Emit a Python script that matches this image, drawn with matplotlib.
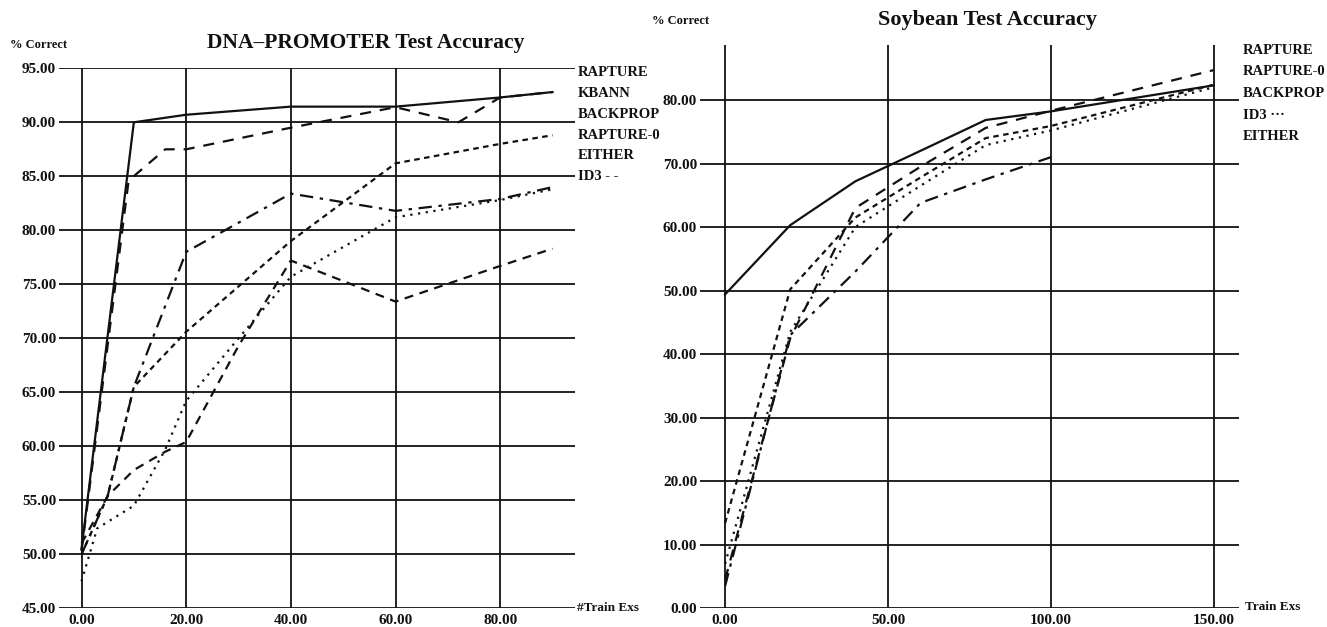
import matplotlib
matplotlib.use("Agg")
import matplotlib.pyplot as plt

plt.rcParams['font.family'] = ['Liberation Serif', 'DejaVu Serif']
plt.rcParams['font.weight'] = 'bold'

# DNA-promoter data
dna_rapture_x = [0, 10, 20, 40, 60, 80, 90]
dna_rapture_y = [50.5, 90.0, 90.7, 91.45, 91.45, 92.3, 92.8]
dna_kbann_x = [0, 9, 16, 20, 40, 60, 72, 80, 90]
dna_kbann_y = [50.3, 84.6, 87.5, 87.5, 89.5, 91.4, 90.0, 92.3, 92.8]
dna_backprop_x = [0, 5, 10, 20, 40, 60, 80, 90]
dna_backprop_y = [50.0, 55.4, 65.5, 78.0, 83.4, 81.8, 82.9, 84.0]
dna_rapture0_x = [0, 5, 10, 20, 40, 60, 80, 90]
dna_rapture0_y = [50.0, 55.4, 65.5, 70.6, 79.0, 86.2, 88.0, 88.8]
dna_either_x = [0, 3, 10, 16, 20, 30, 40, 60, 80, 90]
dna_either_y = [47.5, 52.4, 54.5, 59.7, 64.2, 70.0, 75.7, 81.2, 82.8, 83.8]
dna_id3_x = [0, 5, 10, 16, 20, 30, 40, 60, 80, 90]
dna_id3_y = [51.0, 55.4, 57.8, 59.5, 60.4, 69.3, 77.2, 73.4, 76.7, 78.3]
dna_legend = ["RAPTURE", "KBANN", "BACKPROP", "RAPTURE-0", "EITHER", "ID3 - -"]

# Soybean data
soy_x = [0, 20, 40, 60, 80, 100, 150]
soy_either_x = [0, 20, 40, 60, 80, 100]
soy_rapture = [49.4, 60.3, 67.2, 72.0, 76.85, 78.2, 82.3]
soy_rapture0 = [4.5, 42.5, 63.0, 69.5, 75.6, 78.3, 84.7]
soy_backprop = [13.4, 50.2, 61.5, 67.8, 74.0, 75.9, 82.4]
soy_id3 = [7.0, 43.5, 60.0, 66.5, 72.9, 75.2, 82.0]
soy_either = [3.5, 43.0, 53.0, 63.8, 67.5, 71.0]
soy_legend = ["RAPTURE", "RAPTURE-0", "BACKPROP", "ID3 \u00b7\u00b7\u00b7", "EITHER"]

W, H = 1327, 627
ink = '#111111'

fig = plt.figure(figsize=(W / 100, H / 100), dpi=100)


def px(x, y):
    return x / W, 1 - y / H


def style_axes(ax, xticks, yticks):
    for s in ax.spines.values():
        s.set_visible(False)
    ax.set_xticks(xticks)
    ax.set_yticks(yticks)
    ax.set_xticklabels(["%.2f" % v for v in xticks], fontsize=11, fontweight='bold')
    ax.set_yticklabels(["%.2f" % v for v in yticks], fontsize=11, fontweight='bold')
    ax.tick_params(length=0, pad=2, colors=ink)
    ax.tick_params(axis='x', pad=4)
    ax.grid(True, color=ink, lw=1.3)
    ax.set_axisbelow(True)


# ---- left chart ----
ax1 = fig.add_axes([59 / W, 1 - 608.3 / H, (574.5 - 59) / W, (608.3 - 68.3) / H])
ax1.set_xlim(-4.3, 94.2)
ax1.set_ylim(45, 95)
style_axes(ax1, [0, 20, 40, 60, 80], [45, 50, 55, 60, 65, 70, 75, 80, 85, 90, 95])

lw = 1.6
ax1.plot(dna_rapture_x, dna_rapture_y, color=ink, lw=lw)
ax1.plot(dna_kbann_x, dna_kbann_y, color=ink, lw=lw, linestyle=(0, (5, 4)))
ax1.plot(dna_backprop_x, dna_backprop_y, color=ink, lw=lw, linestyle=(0, (6, 3, 1.5, 3)))
ax1.plot(dna_rapture0_x, dna_rapture0_y, color=ink, lw=lw, linestyle=(0, (2.5, 2)))
ax1.plot(dna_either_x, dna_either_y, color=ink, lw=lw, linestyle=(0, (1, 2.5)))
ax1.plot(dna_id3_x, dna_id3_y, color=ink, lw=lw, linestyle=(0, (4, 3)))

fig.text(*px(366, 43), "DNA\u2013PROMOTER Test Accuracy", fontsize=15.5, fontweight='bold',
         ha='center', va='center', color=ink)
fig.text(*px(10, 45), "% Correct", fontsize=9, fontweight='bold', ha='left', va='center', color=ink)
fig.text(*px(577, 608), "#Train Exs", fontsize=9.5, fontweight='bold', ha='left', va='center', color=ink)
for i, name in enumerate(dna_legend):
    fig.text(*px(578, 72.7 + i * 20.8), name, fontsize=10.5, fontweight='bold',
             ha='left', va='center', color=ink)

# ---- right chart ----
ax2 = fig.add_axes([700 / W, 1 - 608.3 / H, (1238.5 - 700) / W, (608.3 - 45) / H])
ax2.set_xlim(-7.7, 157.6)
ax2.set_ylim(0, 88.65)
style_axes(ax2, [0, 50, 100, 150], [0, 10, 20, 30, 40, 50, 60, 70, 80])

ax2.plot(soy_x, soy_rapture, color=ink, lw=lw)
ax2.plot(soy_x, soy_rapture0, color=ink, lw=lw, linestyle=(0, (5, 4)))
ax2.plot(soy_x, soy_backprop, color=ink, lw=lw, linestyle=(0, (2.5, 2)))
ax2.plot(soy_x, soy_id3, color=ink, lw=lw, linestyle=(0, (1, 2.5)))
ax2.plot(soy_either_x, soy_either, color=ink, lw=lw, linestyle=(0, (6, 3, 1.5, 3)))

fig.text(*px(987, 20), "Soybean Test Accuracy", fontsize=16, fontweight='bold',
         ha='center', va='center', color=ink)
fig.text(*px(652, 21), "% Correct", fontsize=9, fontweight='bold', ha='left', va='center', color=ink)
fig.text(*px(1245, 607), "Train Exs", fontsize=9.5, fontweight='bold', ha='left', va='center', color=ink)
for i, name in enumerate(soy_legend):
    fig.text(*px(1243, 50 + i * 21.7), name, fontsize=10.5, fontweight='bold',
             ha='left', va='center', color=ink)

fig.savefig("out.png", dpi=100, facecolor='white')
